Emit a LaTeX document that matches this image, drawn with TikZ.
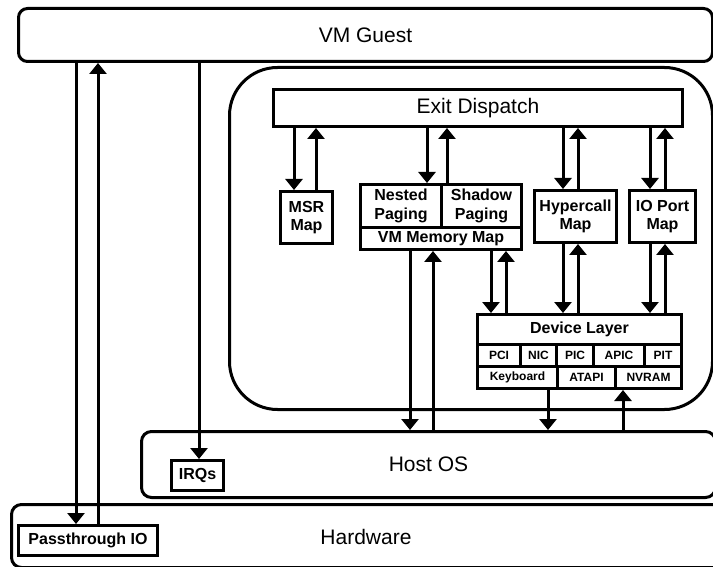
\documentclass[tikz,border=0pt]{standalone}
\usepackage{fontspec}
\setmainfont{Liberation Sans}
\usetikzlibrary{arrows.meta}
\begin{document}
\begin{tikzpicture}[x=1pt,y=-1pt,
 box/.style={draw,line width=3pt,inner sep=0pt,anchor=north west,fill=white},
 big/.style={font=\fontsize{21}{24}\selectfont},
 lbl/.style={font=\bfseries\fontsize{16}{18.5}\selectfont,align=center},
 sm/.style={font=\bfseries\fontsize{12}{14}\selectfont},
 arr/.style={draw,line width=3pt,-{Triangle[width=17pt,length=11pt]}}]
\useasboundingbox (0,0) rectangle (713,567);
\fill[white] (0,0) rectangle (713,567);
\clip (0,0) rectangle (713,567);
% large containers
\node[box,rounded corners=9pt,minimum width=694pt,minimum height=53pt,big] (vm) at (17,7) {VM Guest};
\node[box,rounded corners=48pt,minimum width=483pt,minimum height=342pt] (hv) at (228,66) {};
\node[box,rounded corners=10pt,minimum width=574pt,minimum height=66pt,big] (host) at (140,430) {Host OS};
\node[box,rounded corners=10pt,minimum width=712pt,minimum height=63pt] (hw) at (10,503) {};
\node[big] (hwlabel) at (366,537) {Hardware};
% inner boxes
\node[box,minimum width=409pt,minimum height=37pt,big] (ed) at (272,88) {Exit Dispatch};
\node[box,minimum width=52pt,minimum height=52pt,lbl] (msr) at (279,190) {MSR\\Map};
\node[box,minimum width=81pt,minimum height=43pt,lbl] (nest) at (359,183) {Nested\\Paging};
\node[box,minimum width=80pt,minimum height=43pt,lbl] (shad) at (440,183) {Shadow\\Paging};
\node[box,minimum width=161pt,minimum height=22pt,lbl] (vmm) at (359,226) {VM Memory Map};
\node[box,minimum width=82pt,minimum height=52pt,lbl] (hyp) at (533,189) {Hypercall\\Map};
\node[box,minimum width=66pt,minimum height=52pt,lbl] (iop) at (628,189) {IO Port\\Map};
% device layer
\node[box,minimum width=204pt,minimum height=30pt,lbl] (dl) at (476,313) {Device Layer};
\node[box,minimum width=43pt,minimum height=22pt,sm] (pci) at (476,343) {PCI};
\node[box,minimum width=36pt,minimum height=22pt,sm] (nic) at (519,343) {NIC};
\node[box,minimum width=37pt,minimum height=22pt,sm] (pic) at (555,343) {PIC};
\node[box,minimum width=51pt,minimum height=22pt,sm] (apic) at (592,343) {APIC};
\node[box,minimum width=37pt,minimum height=22pt,sm] (pit) at (643,343) {PIT};
\node[box,minimum width=80pt,minimum height=22pt,sm] (kb) at (476,365) {Keyboard};
\node[box,minimum width=58pt,minimum height=22pt,sm] (atapi) at (556,365) {ATAPI};
\node[box,minimum width=66pt,minimum height=22pt,sm] (nvram) at (614,365) {NVRAM};
% small boxes in host / hardware
\node[box,minimum width=52pt,minimum height=30pt,lbl] (irq) at (170,459) {IRQs};
\node[box,minimum width=139pt,minimum height=30pt,lbl] (pt) at (17,524) {Passthrough IO};
% arrows
\draw[arr] (76,0 |- vm.south) -- (76,0 |- pt.north);
\draw[arr] (98,0 |- pt.north) -- (98,0 |- vm.south);
\draw[arr] (199,0 |- vm.south) -- (199,0 |- irq.north);
\draw[arr] (294,0 |- ed.south) -- (294,0 |- msr.north);
\draw[arr] (316,0 |- msr.north) -- (316,0 |- ed.south);
\draw[arr] (427,0 |- ed.south) -- (427,0 |- nest.north);
\draw[arr] (447,0 |- shad.north) -- (447,0 |- ed.south);
\draw[arr] (563,0 |- ed.south) -- (563,0 |- hyp.north);
\draw[arr] (578,0 |- hyp.north) -- (578,0 |- ed.south);
\draw[arr] (650,0 |- ed.south) -- (650,0 |- iop.north);
\draw[arr] (665,0 |- iop.north) -- (665,0 |- ed.south);
\draw[arr] (410,0 |- vmm.south) -- (410,0 |- host.north);
\draw[arr] (433,0 |- host.north) -- (433,0 |- vmm.south);
\draw[arr] (491,0 |- vmm.south) -- (491,0 |- dl.north);
\draw[arr] (506,0 |- dl.north) -- (506,0 |- vmm.south);
\draw[arr] (563,0 |- hyp.south) -- (563,0 |- dl.north);
\draw[arr] (578,0 |- dl.north) -- (578,0 |- hyp.south);
\draw[arr] (650,0 |- iop.south) -- (650,0 |- dl.north);
\draw[arr] (665,0 |- dl.north) -- (665,0 |- iop.south);
\draw[arr] (548,0 |- kb.south) -- (548,0 |- host.north);
\draw[arr] (623,0 |- host.north) -- (623,0 |- nvram.south);
\end{tikzpicture}
\end{document}
